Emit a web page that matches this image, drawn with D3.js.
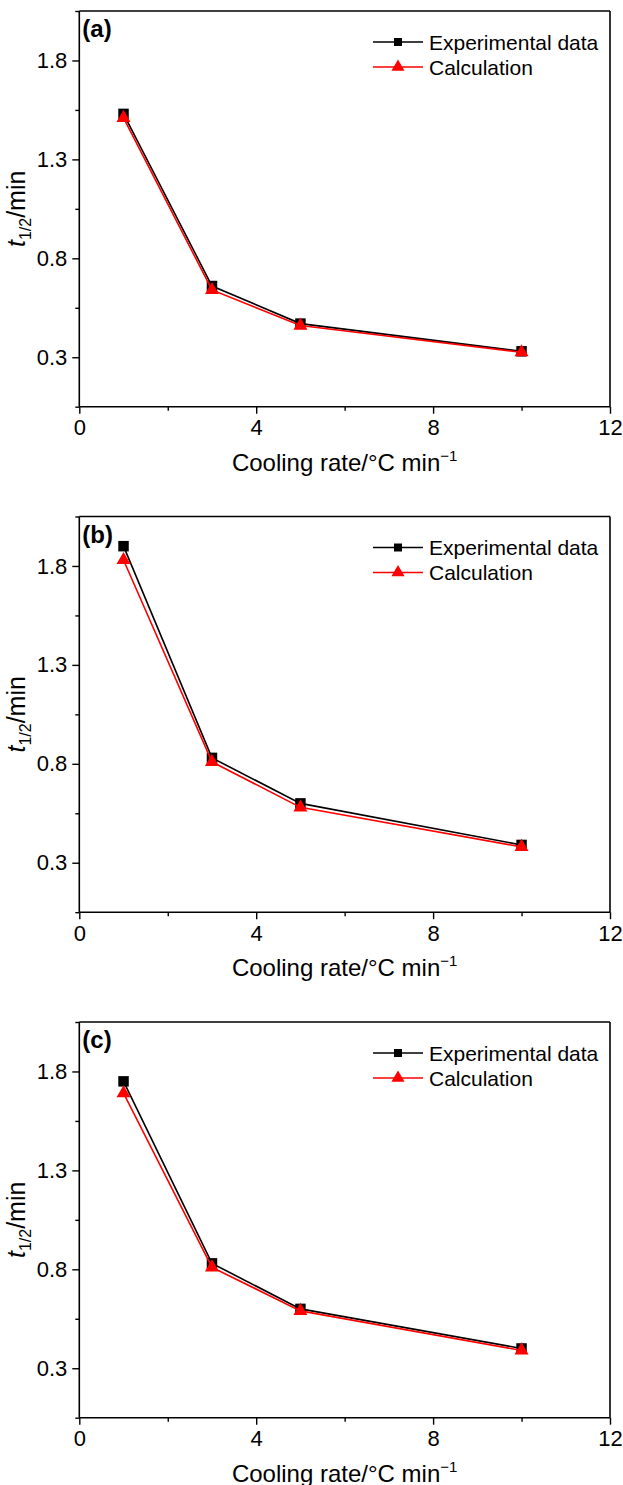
<!DOCTYPE html>
<html>
<head>
<meta charset="utf-8">
<script src="https://cdn.jsdelivr.net/npm/d3@7"></script>
<style>
  html, body { margin: 0; padding: 0; background: #fff; }
  svg { display: block; font-family: "Liberation Sans", Arial, Helvetica, sans-serif; }
</style>
</head>
<body>
<svg id="chart" width="623" height="1485"></svg>
<script>
// ---- data ----
const coolingRates = [1, 3, 5, 10];
const panelLabels = ["(a)", "(b)", "(c)"];
const expA = [1.53, 0.66, 0.47, 0.33];
const calcA = [1.51, 0.64, 0.46, 0.325];
const expB = [1.90, 0.83, 0.60, 0.39];
const calcB = [1.83, 0.81, 0.58, 0.38];
const expC = [1.75, 0.83, 0.60, 0.40];
const calcC = [1.69, 0.81, 0.59, 0.39];
const xTicks = [0, 4, 8, 12];
const xMinorTicks = [2, 6, 10];
const yTicks = [0.3, 0.8, 1.3, 1.8];
const yMinorTicks = [0.05, 0.55, 1.05, 1.55, 2.05];
const seriesNames = ["Experimental data", "Calculation"];

const panels = [
  { label: panelLabels[0], exp: expA, calc: calcA },
  { label: panelLabels[1], exp: expB, calc: calcB },
  { label: panelLabels[2], exp: expC, calc: calcC }
];

const svg = d3.select("#chart");
const left = 79.3, right = 610, plotH = 395.7, panelStep = 505.5, firstTop = 11;

const x = d3.scaleLinear().domain([0, 12]).range([left, right]);

panels.forEach((p, i) => {
  const top = firstTop + i * panelStep;
  const bottom = top + plotH;
  const y = d3.scaleLinear().domain([0.05, 2.05]).range([bottom, top]);
  const g = svg.append("g");

  // frame top/right
  g.append("line").attr("x1", left).attr("x2", right).attr("y1", top).attr("y2", top)
    .attr("stroke", "#000").attr("stroke-width", 1.6);
  g.append("line").attr("x1", right).attr("x2", right).attr("y1", top).attr("y2", bottom)
    .attr("stroke", "#000").attr("stroke-width", 1.6);

  // x axis
  const xa = g.append("g").attr("transform", `translate(0,${bottom})`)
    .call(d3.axisBottom(x).tickValues(xTicks).tickSize(7).tickPadding(6).tickFormat(d3.format("d")));
  g.append("g").attr("transform", `translate(0,${bottom})`)
    .call(d3.axisBottom(x).tickValues(xMinorTicks).tickSize(4).tickFormat(""))
    .call(s => s.select(".domain").remove());
  // y axis
  const ya = g.append("g").attr("transform", `translate(${left},0)`)
    .call(d3.axisLeft(y).tickValues(yTicks).tickSize(7).tickPadding(5).tickFormat(d3.format(".1f")));
  g.append("g").attr("transform", `translate(${left},0)`)
    .call(d3.axisLeft(y).tickValues(yMinorTicks).tickSize(4).tickFormat(""))
    .call(s => s.select(".domain").remove());

  g.selectAll(".domain").attr("stroke-width", 1.6).attr("d", null);
  xa.select(".domain").attr("d", `M${left},0H${right}`);
  ya.select(".domain").attr("d", `M0,${top}V${bottom}`);
  g.selectAll(".tick line").attr("stroke-width", 1.4);
  g.selectAll(".tick text").attr("font-size", 22).attr("font-family", "Liberation Sans, Arial, sans-serif").attr("fill", "#000");

  // panel label
  g.append("text").attr("x", left + 3).attr("y", top + 26)
    .attr("font-size", 24).attr("font-weight", "bold").text(p.label);

  // axis titles
  const xt = g.append("text").attr("x", (left + right) / 2).attr("y", bottom + 64)
    .attr("text-anchor", "middle").attr("font-size", 24);
  xt.append("tspan").text("Cooling rate/°C min");
  xt.append("tspan").attr("dy", -10).attr("font-size", 15).text("−1");

  const yt = g.append("text").attr("transform", `translate(25,${(top + bottom) / 2}) rotate(-90)`)
    .attr("text-anchor", "middle").attr("font-size", 25);
  yt.append("tspan").attr("font-style", "italic").text("t");
  yt.append("tspan").attr("dy", 6).attr("font-size", 16).text("1/2");
  yt.append("tspan").attr("dy", -6).text("/min");

  const line = d3.line().x((d, k) => x(coolingRates[k])).y(d => y(d));
  const sq = d3.symbol().type(d3.symbolSquare).size(110);
  const tri = d3.symbol().type(d3.symbolTriangle).size(85);

  // experimental
  g.append("path").attr("d", line(p.exp)).attr("fill", "none").attr("stroke", "#000").attr("stroke-width", 1.6);
  g.selectAll(".sq").data(p.exp).join("path").attr("class", "sq")
    .attr("transform", (d, k) => `translate(${x(coolingRates[k])},${y(d)})`).attr("d", sq).attr("fill", "#000");
  // calculation
  g.append("path").attr("d", line(p.calc)).attr("fill", "none").attr("stroke", "#ff0000").attr("stroke-width", 1.6);
  g.selectAll(".tri").data(p.calc).join("path").attr("class", "tri")
    .attr("transform", (d, k) => `translate(${x(coolingRates[k])},${y(d)})`).attr("d", tri).attr("fill", "#ff0000");

  // legend
  const lg = g.append("g");
  const rows = [{ name: seriesNames[0], color: "#000", sym: d3.symbol().type(d3.symbolSquare).size(64) },
                { name: seriesNames[1], color: "#ff0000", sym: d3.symbol().type(d3.symbolTriangle).size(75) }];
  rows.forEach((r, k) => {
    const ly = top + 31 + k * 25;
    lg.append("line").attr("x1", 373).attr("x2", 423).attr("y1", ly).attr("y2", ly)
      .attr("stroke", r.color).attr("stroke-width", 1.6);
    lg.append("path").attr("transform", `translate(398,${ly})`).attr("d", r.sym()).attr("fill", r.color);
    lg.append("text").attr("x", 429).attr("y", ly + 7.5).attr("font-size", 21).text(r.name);
  });
});
</script>
</body>
</html>
